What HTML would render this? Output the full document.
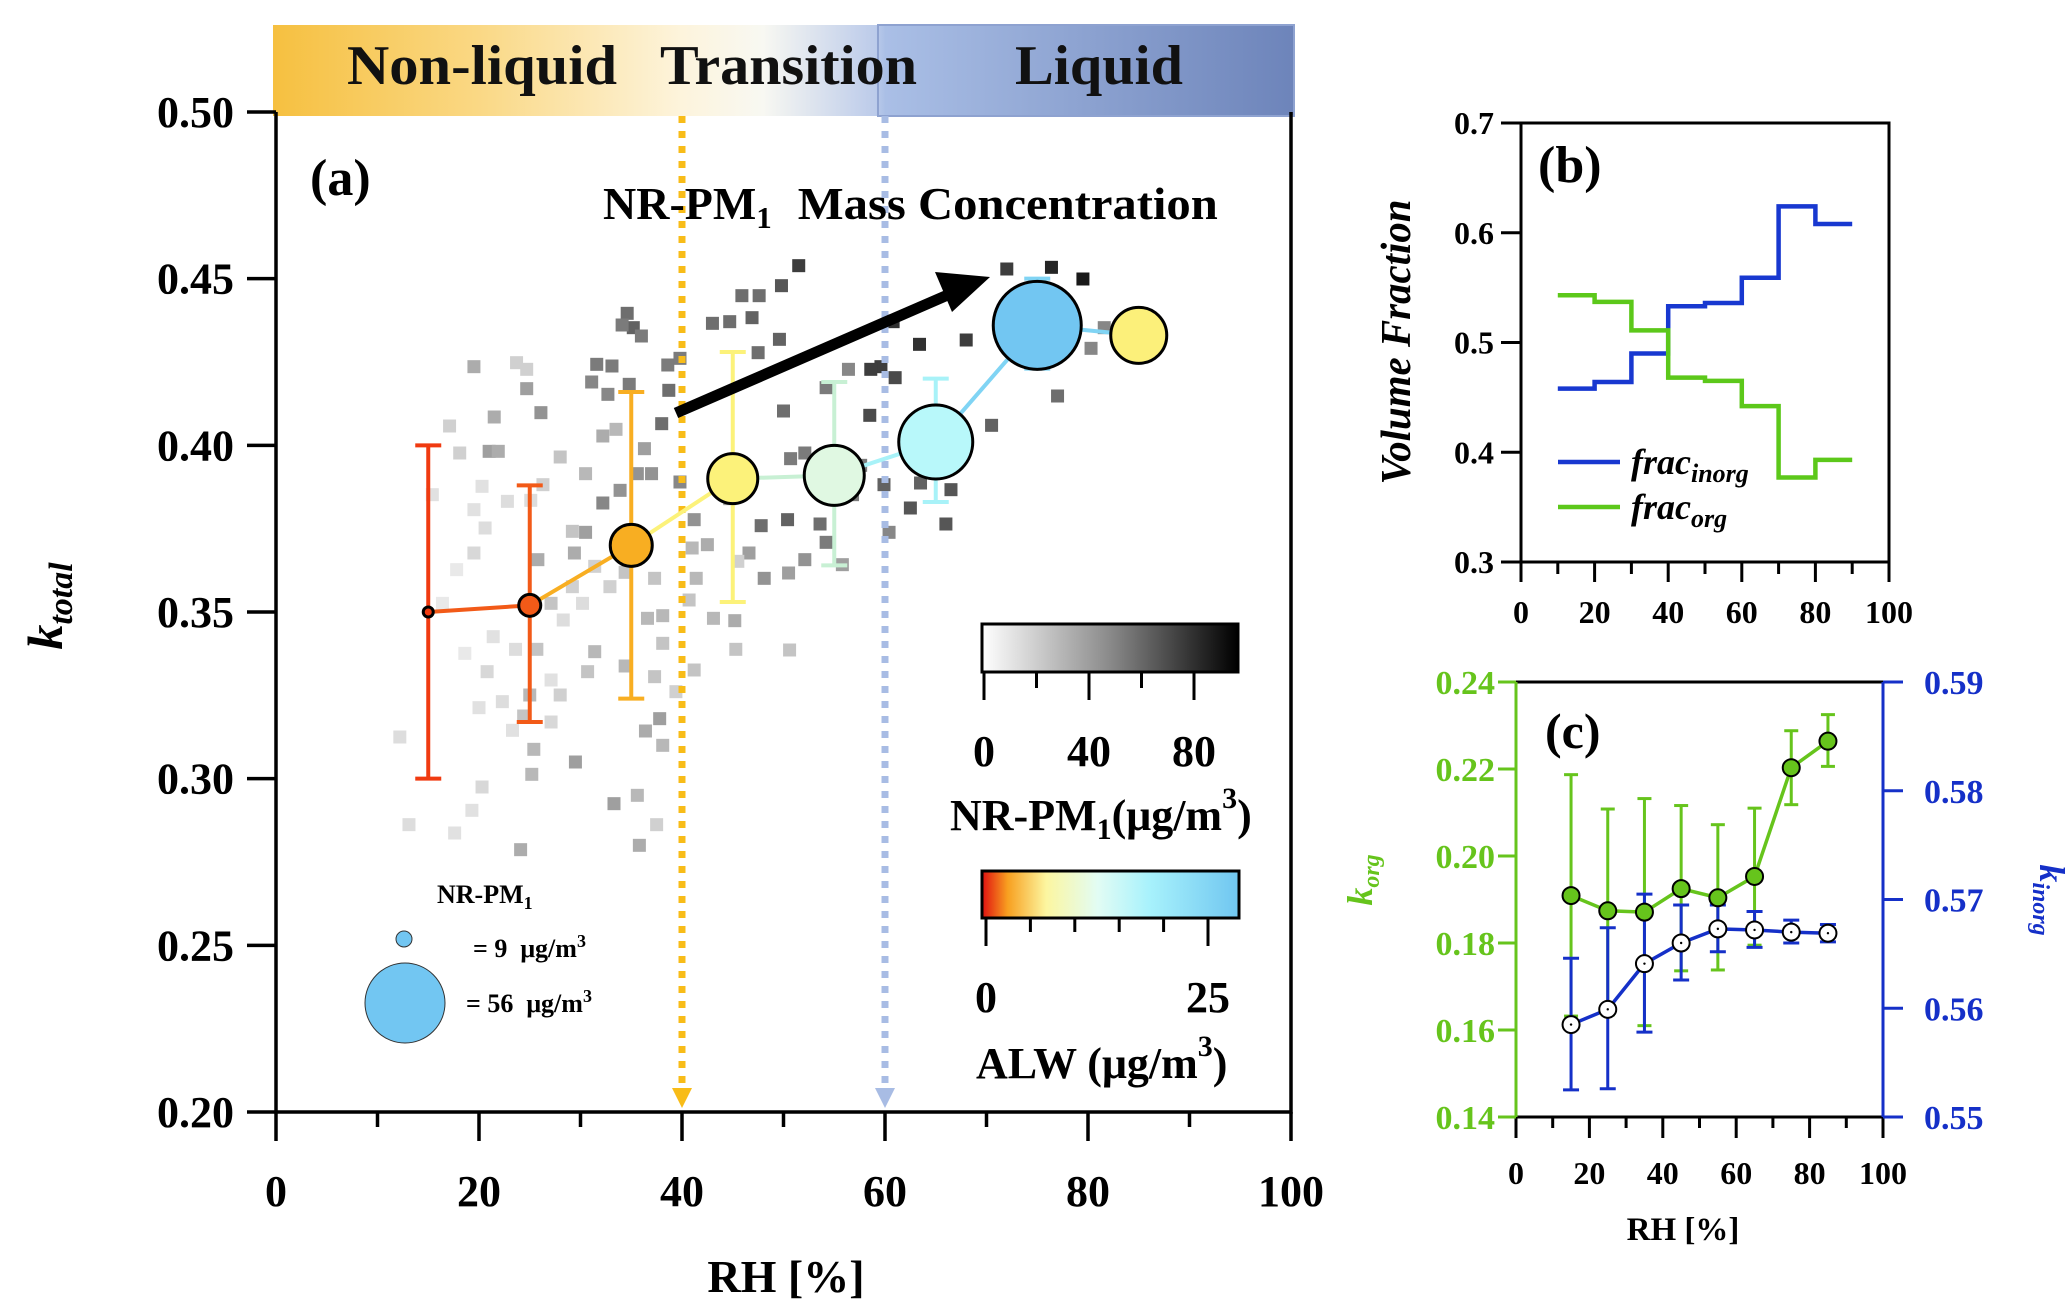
<!DOCTYPE html>
<html><head><meta charset="utf-8">
<style>
html,body{margin:0;padding:0;background:#fff;}
svg{display:block;font-family:"Liberation Serif",serif;font-weight:bold;}
</style></head>
<body>
<svg id="fig" width="2067" height="1313" viewBox="0 0 2067 1313" xmlns="http://www.w3.org/2000/svg">
<defs>
<linearGradient id="bannerGrad" x1="0" x2="1" y1="0" y2="0">
<stop offset="0" stop-color="#f6c040"/>
<stop offset="0.2" stop-color="#fad884"/>
<stop offset="0.4" stop-color="#fdf4dc"/>
<stop offset="0.48" stop-color="#f8f8f2"/>
<stop offset="0.59" stop-color="#bccbea"/>
<stop offset="0.6" stop-color="#aabfe6"/>
<stop offset="1" stop-color="#6d84ba"/>
</linearGradient>
<linearGradient id="grayGrad" x1="0" x2="1" y1="0" y2="0">
<stop offset="0" stop-color="#ffffff"/>
<stop offset="0.5" stop-color="#8a8a8a"/>
<stop offset="1" stop-color="#000000"/>
</linearGradient>
<linearGradient id="alwGrad" x1="0" x2="1" y1="0" y2="0">
<stop offset="0" stop-color="#e01010"/>
<stop offset="0.1" stop-color="#f8a020"/>
<stop offset="0.25" stop-color="#fcf6a0"/>
<stop offset="0.45" stop-color="#e2fcf4"/>
<stop offset="0.65" stop-color="#a8f2fc"/>
<stop offset="1" stop-color="#70c6f0"/>
</linearGradient>
</defs>
<g id="panelA"></g>
<g id="panelB"></g>
<g id="panelC"></g>
</svg>
<script>
// ---------- Panel (a) data ----------
const sqRH = [51.5,49.8,45.9,47.6,43.0,44.7,46.9,49.6,47.5,38.6,39.8,34.6,35.2,36.0,34.1,31.6,33.1,31.1,32.7,34.8,38.7,38.0,
72.0,76.4,79.5,60.8,63.4,68.0,59.6,58.6,61.0,70.5,77.0,80.3,81.6,58.5,56.4,54.2,52.1,50.7,50.0,57.6,59.9,62.5,66.0,63.5,66.5,60.4,54.7,56.8,47.8,50.4,53.6,54.2,55.8,52.1,50.5,48.1,46.6,44.7,45.2,43.1,40.7,41.4,41.0,41.2,39.8,37.0,35.6,36.3,
19.5,21.5,23.7,24.7,26.1,24.7,21.0,21.9,17.1,18.1,20.3,19.5,20.6,19.5,22.8,25.1,26.3,25.8,29.2,30.5,29.4,31.4,34.4,29.2,32.9,37.3,36.6,38.1,38.1,37.3,41.2,39.4,34.4,31.4,30.7,25.7,23.6,22.3,20.8,27.1,28.0,25.0,27.1,24.4,25.4,25.2,20.3,19.3,12.2,13.1,17.6,24.1,33.3,35.6,37.5,35.8,29.5,36.4,37.8,38.1,45.3,50.6,45.5,42.5,17.8,15.4,16.4,18.6,20.0,23.3,21.4,32.2,33.9,28.0,30.5,32.2,33.5,28.3,30.2,27.1];
const sqK = [0.4539,0.4479,0.4449,0.4449,0.4366,0.4371,0.4383,0.4318,0.4278,0.4241,0.4261,0.4396,0.4353,0.4328,0.4361,0.4243,0.4238,0.4190,0.4153,0.4183,0.4165,0.4065,
0.4529,0.4534,0.4499,0.4371,0.4303,0.4316,0.4236,0.4228,0.4203,0.4060,0.4148,0.4291,0.4353,0.4090,0.4228,0.4173,0.3977,0.3960,0.4103,0.3940,0.3882,0.3812,0.3764,0.3887,0.3867,0.3739,0.3872,0.3852,0.3759,0.3777,0.3764,0.3709,0.3642,0.3657,0.3617,0.3601,0.3677,0.3840,0.3474,0.3481,0.3536,0.3601,0.3692,0.3777,0.3890,0.3915,0.3915,0.3990,
0.4236,0.4085,0.4248,0.4228,0.4098,0.4170,0.3982,0.3982,0.4058,0.3977,0.3877,0.3807,0.3752,0.3677,0.3832,0.3835,0.3882,0.3657,0.3742,0.3739,0.3677,0.3637,0.3619,0.3576,0.3576,0.3601,0.3481,0.3489,0.3406,0.3306,0.3326,0.3261,0.3338,0.3381,0.3321,0.3388,0.3388,0.3231,0.3321,0.3296,0.3251,0.3251,0.3170,0.3188,0.3088,0.3013,0.2975,0.2905,0.3125,0.2862,0.2837,0.2787,0.2925,0.2950,0.2862,0.2800,0.3050,0.3143,0.3180,0.3100,0.3388,0.3386,0.3652,0.3702,0.3627,0.3852,0.3526,0.3376,0.3213,0.3145,0.3426,0.3827,0.3865,0.3965,0.3915,0.4028,0.4048,0.3476,0.3526,0.3526];
const sqPM = [75,65,55,55,55,55,60,60,55,50,50,55,60,50,50,50,50,45,45,50,55,55,
75,85,90,80,80,75,75,75,70,60,55,45,45,70,45,50,50,50,55,50,60,65,65,60,65,45,70,50,55,60,55,50,35,40,35,40,35,35,30,25,20,25,25,40,45,40,40,35,30,30,
15,15,40,35,35,30,15,15,8,8,10,12,10,10,15,30,20,35,30,15,20,15,15,20,25,25,20,20,20,15,25,25,20,20,10,10,12,8,15,25,12,20,25,25,12,8,10,10,8,30,35,25,15,30,35,30,35,25,20,20,15,30,5,8,5,5,8,8,8,45,40,20,25,30,25,10,10];
const binRH = [15,25,35,45,55,65,75,85];
const kTotal = [0.350,0.352,0.370,0.390,0.391,0.401,0.436,0.433];
const kErrLo = [0.300,0.317,0.324,0.353,0.364,0.383,0.423,null];
const kErrHi = [0.400,0.388,0.416,0.428,0.419,0.420,0.450,null];
const bubblePM = [5,11,21,25,30,37,44,28];
const bubbleColors = ['#f03a10','#f25a18','#f8ae22','#fcf27a','#e0f8e2','#b8f8fa','#72c6f2','#fcf07a'];
const errColors = ['#f03a10','#f25a18','#f8ae22','#fcf27a','#c8f0d4','#a8f2f8','#80d4f4','#fcf07a'];
const aXTicks = [0,20,40,60,80,100];
const aYTicks = [0.20,0.25,0.30,0.35,0.40,0.45,0.50];

// ---------- Panel (b) data ----------
const bBins = [10,20,30,40,50,60,70,80,90];
const fracInorg = [0.458,0.464,0.490,0.533,0.536,0.559,0.624,0.608];
const fracOrg = [0.543,0.537,0.511,0.468,0.465,0.442,0.377,0.393];
const bYTicks = [0.3,0.4,0.5,0.6,0.7];
const bXTicks = [0,20,40,60,80,100];

// ---------- Panel (c) data ----------
const cRH = [15,25,35,45,55,65,75,85];
const kOrg = [0.1909,0.1874,0.1871,0.1925,0.1904,0.1953,0.2203,0.2264];
const kOrgHi = [0.2187,0.2108,0.2132,0.2116,0.2072,0.2110,0.2288,0.2325];
const kOrgLo = [0.1632,0.1635,0.1610,0.1736,0.1738,0.1795,0.2118,0.2206];
const kInorg = [0.5585,0.5599,0.5641,0.5660,0.5673,0.5672,0.5670,0.5669];
const kInorgHi = [0.5646,0.5674,0.5705,0.5695,0.5695,0.5689,0.5681,0.5677];
const kInorgLo = [0.5525,0.5526,0.5578,0.5626,0.5652,0.5656,0.5660,0.5661];
const cLeftTicks = [0.14,0.16,0.18,0.20,0.22,0.24];
const cRightTicks = [0.55,0.56,0.57,0.58,0.59];
const cXTicks = [0,20,40,60,80,100];

const NS = 'http://www.w3.org/2000/svg';
function mk(parent, tag, attrs, text){
  const e = document.createElementNS(NS, tag);
  for (const k in attrs) e.setAttribute(k, attrs[k]);
  if (text !== undefined) e.textContent = text;
  parent.appendChild(e);
  return e;
}

// ======== Panel A ========
(function(){
  const g = document.getElementById('panelA');
  const X0=276, X1=1291, Y0=1112, Y1=112;
  const ax = v => X0 + (v-0)/100*(X1-X0);
  const ay = v => Y0 - (v-0.20)/0.30*(Y0-Y1);

  const banner = mk(g,'rect',{x:273,y:25,width:1021,height:91,fill:'url(#bannerGrad)'});
  
  
  const lb = mk(g,'rect',{x:878,y:25,width:416,height:91,fill:'none',stroke:'#8ea2d0','stroke-width':2});
  
  
  const bl = [['Non-liquid',347,270],['Transition',660,257],['Liquid',1015,168]];
  bl.forEach(b=>{
    const t = mk(g,'text',{x:b[1],y:84,'font-size':56,textLength:b[2],lengthAdjust:'spacingAndGlyphs',fill:'#111'},b[0]);
    
    
  });

  for (let i=0;i<sqRH.length;i++){
    let v = sqPM[i];
    if (typeof v !== 'number' || isNaN(v)) v = 20;
    v = Math.max(0,Math.min(100,v));
    const c = Math.round(245 - v/100*245);
    const s = mk(g,'rect',{x:ax(sqRH[i])-6.5,y:ay(sqK[i])-6.5,width:13,height:13,fill:`rgb(${c},${c},${c})`});
    
    
  }

  const dl1 = mk(g,'line',{x1:ax(40),y1:116,x2:ax(40),y2:1090,stroke:'#f8bc18','stroke-width':7,'stroke-dasharray':'7 8'});
  
  
  const ar1 = mk(g,'polygon',{points:`${ax(40)-10},1088 ${ax(40)+10},1088 ${ax(40)},1108`,fill:'#f8bc18'});
  
  
  const dl2 = mk(g,'line',{x1:ax(60),y1:116,x2:ax(60),y2:1090,stroke:'#a8bce4','stroke-width':7,'stroke-dasharray':'7 8'});
  
  
  const ar2 = mk(g,'polygon',{points:`${ax(60)-10},1088 ${ax(60)+10},1088 ${ax(60)},1108`,fill:'#a8bce4'});
  
  

  for (let i=0;i<binRH.length;i++){
    if (kErrLo[i]===null) continue;
    const x = ax(binRH[i]);
    const eg = mk(g,'g',{stroke:errColors[i],'stroke-width':4});
    
    
    mk(eg,'line',{x1:x,y1:ay(kErrLo[i]),x2:x,y2:ay(kErrHi[i])});
    mk(eg,'line',{x1:x-13,y1:ay(kErrLo[i]),x2:x+13,y2:ay(kErrLo[i])});
    mk(eg,'line',{x1:x-13,y1:ay(kErrHi[i]),x2:x+13,y2:ay(kErrHi[i])});
  }
  for (let i=0;i<binRH.length-1;i++){
    const l = mk(g,'line',{x1:ax(binRH[i]),y1:ay(kTotal[i]),x2:ax(binRH[i+1]),y2:ay(kTotal[i+1]),stroke:errColors[i+1===7?6:i+1],'stroke-width':4});
    
    
  }
  for (let i=0;i<binRH.length;i++){
    const c = mk(g,'circle',{cx:ax(binRH[i]),cy:ay(kTotal[i]),r:bubblePM[i],fill:bubbleColors[i],stroke:'#000','stroke-width':3});
    
    
  }

  const arr = mk(g,'line',{x1:676,y1:413,x2:950,y2:294,stroke:'#000','stroke-width':11});
  
  
  const ah = mk(g,'polygon',{points:'990,277 935,272 952,312',fill:'#000'});
  
  

  const axes = mk(g,'g',{stroke:'#000','stroke-width':3.5,fill:'none'});
  
  
  mk(axes,'path',{d:`M${X0},${Y1} V${Y0} H${X1} V${Y1}`});
  aYTicks.forEach(v=>{
    mk(axes,'line',{x1:X0-29,y1:ay(v),x2:X0,y2:ay(v)});
    const t = mk(g,'text',{x:234,y:ay(v)+15,'text-anchor':'end','font-size':44,fill:'#000'},v.toFixed(2));
    
    
  });
  for (let v=0; v<=100; v+=10){
    const major = v%20===0;
    mk(axes,'line',{x1:ax(v),y1:Y0,x2:ax(v),y2:Y0+(major?29:15)});
  }
  aXTicks.forEach(v=>{
    const t = mk(g,'text',{x:ax(v),y:1206,'text-anchor':'middle','font-size':44,fill:'#000'},String(v));
    
    
  });
  const xt = mk(g,'text',{x:786,y:1292,'text-anchor':'middle','font-size':46,fill:'#000'},'RH [%]');
  
  
  const yt = mk(g,'text',{x:0,y:0,'text-anchor':'middle','font-size':50,'font-style':'italic',fill:'#000',transform:'translate(62,606) rotate(-90)'});
  
  
  yt.innerHTML = 'k<tspan font-size="34" dy="10">total</tspan>';

  const pa = mk(g,'text',{x:310,y:195,'font-size':52,fill:'#000'},'(a)');
  
  
  const mc = mk(g,'text',{x:603,y:219,'font-size':46,fill:'#000'});
  
  
  mc.innerHTML = 'NR-PM<tspan font-size="31" dy="9">1</tspan><tspan dy="-9" dx="26" textLength="420" lengthAdjust="spacingAndGlyphs">Mass Concentration</tspan>';

  const gb = mk(g,'rect',{x:982,y:624,width:256,height:48,fill:'url(#grayGrad)',stroke:'#000','stroke-width':3});
  
  
  const gcx = v => 984 + v/40*105;
  [0,20,40,60,80].forEach(v=>{
    const major = v%40===0;
    mk(g,'line',{x1:gcx(v),y1:672,x2:gcx(v),y2:major?700:688,stroke:'#000','stroke-width':3});
  });
  [0,40,80].forEach(v=>{
    const t = mk(g,'text',{x:gcx(v),y:766,'text-anchor':'middle','font-size':44,fill:'#000'},String(v));
    
    
  });
  const gt = mk(g,'text',{x:950,y:830,'font-size':44,fill:'#000'});
  
  
  gt.innerHTML = 'NR-PM<tspan font-size="30" dy="9">1</tspan><tspan dy="-9">(μg/m</tspan><tspan font-size="30" dy="-22">3</tspan><tspan dy="22">)</tspan>';

  const ab = mk(g,'rect',{x:982,y:871,width:257,height:47,fill:'url(#alwGrad)',stroke:'#000','stroke-width':3});
  
  
  for (let i=0;i<=5;i++){
    const x = 986 + i*(1208-986)/5;
    mk(g,'line',{x1:x,y1:918,x2:x,y2:(i===0||i===5)?946:932,stroke:'#000','stroke-width':3});
  }
  [[0,986],[25,1208]].forEach(p=>{
    const t = mk(g,'text',{x:p[1],y:1012,'text-anchor':'middle','font-size':44,fill:'#000'},String(p[0]));
    
    
  });
  const at = mk(g,'text',{x:976,y:1078,'font-size':44,fill:'#000'});
  
  
  at.innerHTML = 'ALW (μg/m<tspan font-size="30" dy="-22">3</tspan><tspan dy="22">)</tspan>';

  const lt = mk(g,'text',{x:437,y:903,'font-size':26,fill:'#000'});
  
  
  lt.innerHTML = 'NR-PM<tspan font-size="18" dy="6">1</tspan>';
  const c1 = mk(g,'circle',{cx:404,cy:939,r:8,fill:'#72c6f2',stroke:'#333','stroke-width':1});
  
  
  const t1 = mk(g,'text',{x:473,y:957,'font-size':26,fill:'#000'});
  
  
  t1.innerHTML = '= 9&#160;&#160;μg/m<tspan font-size="18" dy="-10">3</tspan>';
  const c2 = mk(g,'circle',{cx:405,cy:1003,r:40,fill:'#72c6f2',stroke:'#333','stroke-width':1});
  
  
  const t2 = mk(g,'text',{x:466,y:1012,'font-size':26,fill:'#000'});
  
  
  t2.innerHTML = '= 56&#160;&#160;μg/m<tspan font-size="18" dy="-10">3</tspan>';
})();

// ======== Panel B ========
(function(){
  const g = document.getElementById('panelB');
  const X0=1521, X1=1889, Y0=562, Y1=123;
  const bx = v => X0 + v/100*(X1-X0);
  const by = v => Y0 - (v-0.3)/0.4*(Y0-Y1);
  function stepPath(vals){
    let d = `M${bx(bBins[0])},${by(vals[0])}`;
    for (let i=0;i<vals.length;i++){
      if (i>0) d += ` V${by(vals[i])}`;
      d += ` H${bx(bBins[i+1])}`;
    }
    return d;
  }
  const pi = mk(g,'path',{d:stepPath(fracInorg),fill:'none',stroke:'#1838d0','stroke-width':4.5});
  
  
  const po = mk(g,'path',{d:stepPath(fracOrg),fill:'none',stroke:'#5cc81a','stroke-width':4.5});
  
  

  const axes = mk(g,'g',{stroke:'#000','stroke-width':3,fill:'none'});
  
  
  mk(axes,'rect',{x:X0,y:Y1,width:X1-X0,height:Y0-Y1});
  bYTicks.forEach(v=>{
    mk(axes,'line',{x1:X0-20,y1:by(v),x2:X0,y2:by(v)});
    const t = mk(g,'text',{x:1494,y:by(v)+11,'text-anchor':'end','font-size':32,fill:'#000'},v.toFixed(1));
    
    
  });
  for (let v=0; v<=100; v+=10){
    const major = v%20===0;
    mk(axes,'line',{x1:bx(v),y1:Y0,x2:bx(v),y2:Y0+(major?20:12)});
  }
  bXTicks.forEach(v=>{
    const t = mk(g,'text',{x:bx(v),y:623,'text-anchor':'middle','font-size':32,fill:'#000'},String(v));
    
    
  });
  const yt = mk(g,'text',{x:0,y:0,'text-anchor':'middle','font-size':42,'font-style':'italic',textLength:285,lengthAdjust:'spacingAndGlyphs',fill:'#000',transform:'translate(1410,342) rotate(-90)'},'Volume Fraction');
  
  
  const pl = mk(g,'text',{x:1538,y:182,'font-size':52,fill:'#000'},'(b)');
  
  
  const l1 = mk(g,'line',{x1:1558,y1:462,x2:1620,y2:462,stroke:'#1838d0','stroke-width':4.5});
  
  
  const lt1 = mk(g,'text',{x:1631,y:474,'font-size':36,'font-style':'italic',fill:'#000'});
  
  
  lt1.innerHTML = 'frac<tspan font-size="26" dy="8">inorg</tspan>';
  const l2 = mk(g,'line',{x1:1558,y1:507,x2:1620,y2:507,stroke:'#5cc81a','stroke-width':4.5});
  
  
  const lt2 = mk(g,'text',{x:1631,y:519,'font-size':36,'font-style':'italic',fill:'#000'});
  
  
  lt2.innerHTML = 'frac<tspan font-size="26" dy="8">org</tspan>';
})();

// ======== Panel C ========
(function(){
  const g = document.getElementById('panelC');
  const X0=1516, X1=1883, Y0=1117, Y1=682;
  const GREEN='#66c41c', BLUE='#1530c8';
  const cx = v => X0 + v/100*(X1-X0);
  const yl = v => Y0 - (v-0.14)/0.10*(Y0-Y1);
  const yr = v => Y0 - (v-0.55)/0.04*(Y0-Y1);

  for (let i=0;i<cRH.length;i++){
    const x = cx(cRH[i]);
    const eg = mk(g,'g',{stroke:GREEN,'stroke-width':3});
    
    
    mk(eg,'line',{x1:x,y1:yl(kOrgLo[i]),x2:x,y2:yl(kOrgHi[i])});
    mk(eg,'line',{x1:x-7,y1:yl(kOrgLo[i]),x2:x+7,y2:yl(kOrgLo[i])});
    mk(eg,'line',{x1:x-7,y1:yl(kOrgHi[i]),x2:x+7,y2:yl(kOrgHi[i])});
  }
  for (let i=0;i<cRH.length;i++){
    const x = cx(cRH[i]);
    const eg = mk(g,'g',{stroke:BLUE,'stroke-width':3});
    
    
    mk(eg,'line',{x1:x,y1:yr(kInorgLo[i]),x2:x,y2:yr(kInorgHi[i])});
    mk(eg,'line',{x1:x-8,y1:yr(kInorgLo[i]),x2:x+8,y2:yr(kInorgLo[i])});
    mk(eg,'line',{x1:x-8,y1:yr(kInorgHi[i]),x2:x+8,y2:yr(kInorgHi[i])});
  }
  const lo = mk(g,'polyline',{points:cRH.map((v,i)=>cx(v)+','+yl(kOrg[i])).join(' '),fill:'none',stroke:GREEN,'stroke-width':3.5});
  
  
  const li = mk(g,'polyline',{points:cRH.map((v,i)=>cx(v)+','+yr(kInorg[i])).join(' '),fill:'none',stroke:BLUE,'stroke-width':3.5});
  
  
  for (let i=0;i<cRH.length;i++){
    const p = mk(g,'circle',{cx:cx(cRH[i]),cy:yl(kOrg[i]),r:8.5,fill:'#66c41c',stroke:'#000','stroke-width':2});
    
    
    const q = mk(g,'circle',{cx:cx(cRH[i]),cy:yr(kInorg[i]),r:8.5,fill:'#fff',stroke:'#000','stroke-width':2});
    
    
    mk(g,'circle',{cx:cx(cRH[i]),cy:yr(kInorg[i]),r:1.2,fill:'#000'});
  }

  const top = mk(g,'line',{x1:X0,y1:Y1,x2:X1,y2:Y1,stroke:'#000','stroke-width':3});
  
  
  const bot = mk(g,'g',{stroke:'#000','stroke-width':3});
  
  
  mk(bot,'line',{x1:X0,y1:Y0,x2:X1,y2:Y0});
  for (let v=0; v<=100; v+=10){
    const major = v%20===0;
    mk(bot,'line',{x1:cx(v),y1:Y0,x2:cx(v),y2:Y0+(major?21:11)});
  }
  cXTicks.forEach(v=>{
    const t = mk(g,'text',{x:cx(v),y:1184,'text-anchor':'middle','font-size':32,fill:'#000'},String(v));
    
    
  });
  const la = mk(g,'g',{stroke:GREEN,'stroke-width':3});
  
  
  mk(la,'line',{x1:X0,y1:Y1,x2:X0,y2:Y0});
  cLeftTicks.forEach(v=>{
    mk(la,'line',{x1:X0-18,y1:yl(v),x2:X0,y2:yl(v)});
    const t = mk(g,'text',{x:1495,y:yl(v)+12,'text-anchor':'end','font-size':34,fill:GREEN},v.toFixed(2));
    
    
  });
  const ra = mk(g,'g',{stroke:BLUE,'stroke-width':3});
  
  
  mk(ra,'line',{x1:X1,y1:Y1,x2:X1,y2:Y0});
  cRightTicks.forEach(v=>{
    mk(ra,'line',{x1:X1,y1:yr(v),x2:X1+20,y2:yr(v)});
    const t = mk(g,'text',{x:1924,y:yr(v)+12,'font-size':34,fill:BLUE},v.toFixed(2));
    
    
  });
  const xt = mk(g,'text',{x:1683,y:1240,'text-anchor':'middle','font-size':33,fill:'#000'},'RH [%]');
  
  
  const pl = mk(g,'text',{x:1545,y:748,'font-size':50,fill:'#000'},'(c)');
  
  
  const yl1 = mk(g,'text',{x:0,y:0,'text-anchor':'middle','font-size':36,'font-style':'italic',fill:GREEN,transform:'translate(1372,880) rotate(-90)'});
  
  
  yl1.innerHTML = 'k<tspan font-size="24" dy="7">org</tspan>';
  const yr1 = mk(g,'text',{x:0,y:0,'text-anchor':'middle','font-size':36,'font-style':'italic',fill:BLUE,transform:'translate(2040,900) rotate(90)'});
  
  
  yr1.innerHTML = 'k<tspan font-size="24" dy="7">inorg</tspan>';
})();
</script>
</body></html>
